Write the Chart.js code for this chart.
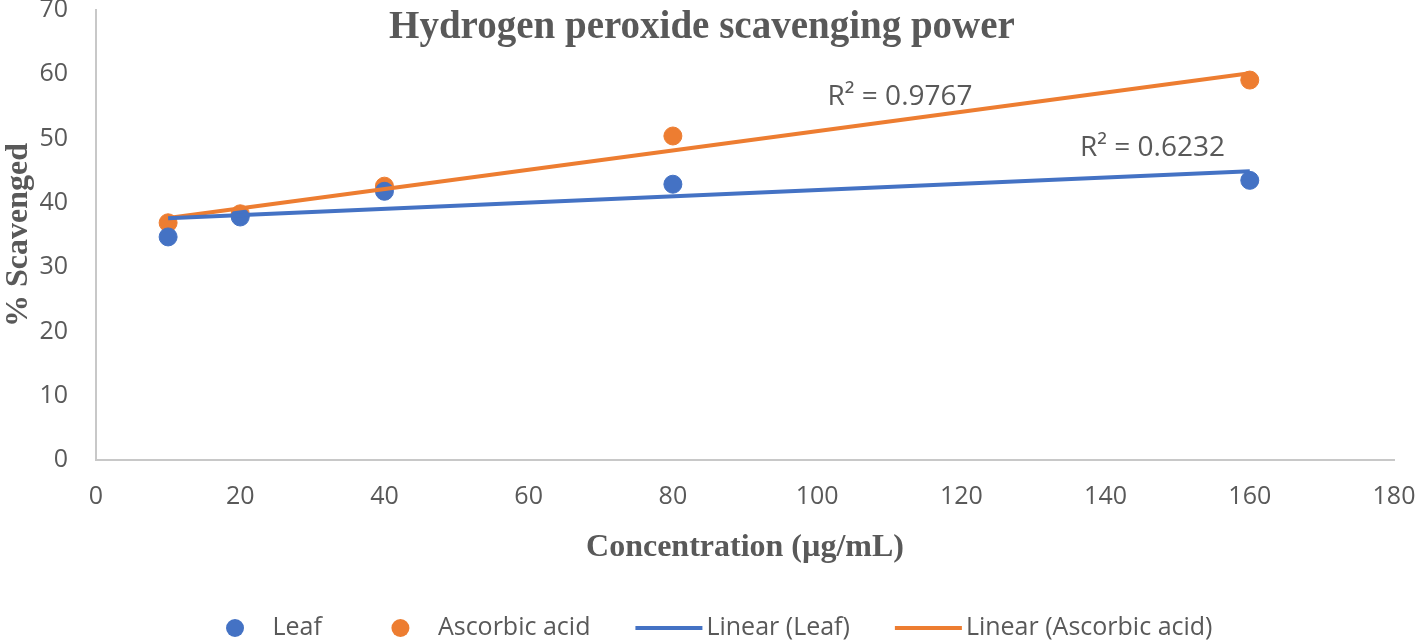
<!DOCTYPE html>
<html>
<head>
<meta charset="utf-8">
<script src="https://cdn.jsdelivr.net/npm/chart.js@4"></script>
<style>
  html, body { margin:0; padding:0; background:#fff; }
  #wrap { width:1424px; height:643px; }
</style>
</head>
<body>
<div id="wrap"><canvas id="chart" width="1424" height="643"></canvas></div>
<script>
// data
const concentrations = [10, 20, 40, 80, 160];
const leafValues = [34.7, 37.8, 41.8, 42.9, 43.5];
const ascorbicValues = [36.9, 38.3, 42.6, 50.4, 59.1];
const xTicks = [0, 20, 40, 60, 80, 100, 120, 140, 160, 180];
const yTicks = [0, 10, 20, 30, 40, 50, 60, 70];
const r2Labels = ['R² = 0.6232', 'R² = 0.9767'];

const BLUE = '#4472c4', ORANGE = '#ed7d31', GREY = '#595959';
const SANS = '"Open Sans", "Noto Sans", sans-serif';
const SERIF = '"Liberation Serif", "DejaVu Serif", serif';

// least squares fit, endpoints at first/last x
function trend(xs, ys){
  const n = xs.length;
  const mx = xs.reduce((a,b)=>a+b,0)/n, my = ys.reduce((a,b)=>a+b,0)/n;
  let sxy = 0, sxx = 0;
  xs.forEach((x,i)=>{ sxy += (x-mx)*(ys[i]-my); sxx += (x-mx)*(x-mx); });
  const b = sxy/sxx, a = my - b*mx;
  return [xs[0], xs[n-1]].map(x=>({x, y:a+b*x}));
}
const pts = (xs, ys)=>xs.map((x,i)=>({x, y:ys[i]}));

// title, R² labels and the bottom legend
const overlay = {
  id:'overlay',
  afterDraw(chart){
    const {ctx, scales:{x, y}} = chart;
    ctx.save();
    ctx.fillStyle = GREY;
    ctx.textAlign = 'center';
    ctx.textBaseline = 'middle';
    ctx.font = 'bold 39px ' + SERIF;
    ctx.fillText('Hydrogen peroxide scavenging power', 702, 28);
    ctx.font = '28px ' + SANS;
    ctx.fillText(r2Labels[0], x.getPixelForValue(146.5), y.getPixelForValue(48.6));
    ctx.fillText(r2Labels[1], x.getPixelForValue(111.5), y.getPixelForValue(56.4));

    // legend: every entry has a 67px symbol slot, circle centred in it
    ctx.font = '25px ' + SANS;
    ctx.textAlign = 'left';
    const slot = 67, gap = 4, spacing = 45;
    const items = chart.data.datasets.map(d=>({
      d, isLine: d.type === 'line', w: slot + gap + ctx.measureText(d.label).width
    }));
    const total = items.reduce((s,it)=>s+it.w,0) + spacing*(items.length-1);
    let cx = 707 - total/2;
    const cy = 628;
    items.forEach(it=>{
      if(it.isLine){
        ctx.strokeStyle = it.d.borderColor; ctx.lineWidth = 4;
        ctx.beginPath(); ctx.moveTo(cx, cy); ctx.lineTo(cx+slot, cy); ctx.stroke();
      } else {
        ctx.fillStyle = it.d.backgroundColor;
        ctx.beginPath(); ctx.arc(cx+slot/2, cy, 9, 0, Math.PI*2); ctx.fill();
      }
      ctx.fillStyle = GREY;
      ctx.fillText(it.d.label, cx+slot+gap, cy);
      cx += it.w + spacing;
    });
    ctx.restore();
  }
};

new Chart(document.getElementById('chart'), {
  type:'scatter',
  data:{
    datasets:[
      {label:'Leaf', data:pts(concentrations, leafValues), backgroundColor:BLUE, borderColor:BLUE, pointRadius:9, pointHoverRadius:9, order:1},
      {label:'Ascorbic acid', data:pts(concentrations, ascorbicValues), backgroundColor:ORANGE, borderColor:ORANGE, pointRadius:9, pointHoverRadius:9, order:1},
      {label:'Linear (Leaf)', type:'line', data:trend(concentrations, leafValues), borderColor:BLUE, backgroundColor:BLUE, borderWidth:4, pointRadius:0, showLine:true, order:0},
      {label:'Linear (Ascorbic acid)', type:'line', data:trend(concentrations, ascorbicValues), borderColor:ORANGE, backgroundColor:ORANGE, borderWidth:4, pointRadius:0, showLine:true, order:0}
    ]
  },
  options:{
    responsive:false,
    animation:false,
    layout:{padding:{left:0, right:30, top:10, bottom:0}},
    plugins:{
      tooltip:{enabled:false},
      legend:{display:false}
    },
    scales:{
      x:{
        type:'linear', min:0, max:180,
        afterBuildTicks(s){ s.ticks = xTicks.map(v=>({value:v})); },
        grid:{display:false, drawTicks:false},
        border:{display:true, color:'#c8c8c8', width:2},
        ticks:{color:GREY, font:{family:SANS, size:25}, padding:22},
        title:{display:true, text:'Concentration (µg/mL)', color:GREY, font:{family:SERIF, size:32, weight:'bold'}, padding:{top:0, bottom:76}},
        afterFit(s){ s.height = 183; s.paddingLeft = 0; s.paddingRight = 0; }
      },
      y:{
        min:0, max:70,
        afterBuildTicks(s){ s.ticks = yTicks.map(v=>({value:v})); },
        grid:{display:false, drawTicks:false},
        border:{display:true, color:'#c8c8c8', width:2},
        ticks:{color:GREY, font:{family:SANS, size:25}, padding:28},
        title:{display:true, text:'% Scavenged', color:GREY, font:{family:SERIF, size:32, weight:'bold'}, padding:{top:0, bottom:0}},
        afterFit(s){ s.width = 96; s.paddingTop = 0; s.paddingBottom = 0; }
      }
    }
  },
  plugins:[overlay]
});
</script>
</body>
</html>
